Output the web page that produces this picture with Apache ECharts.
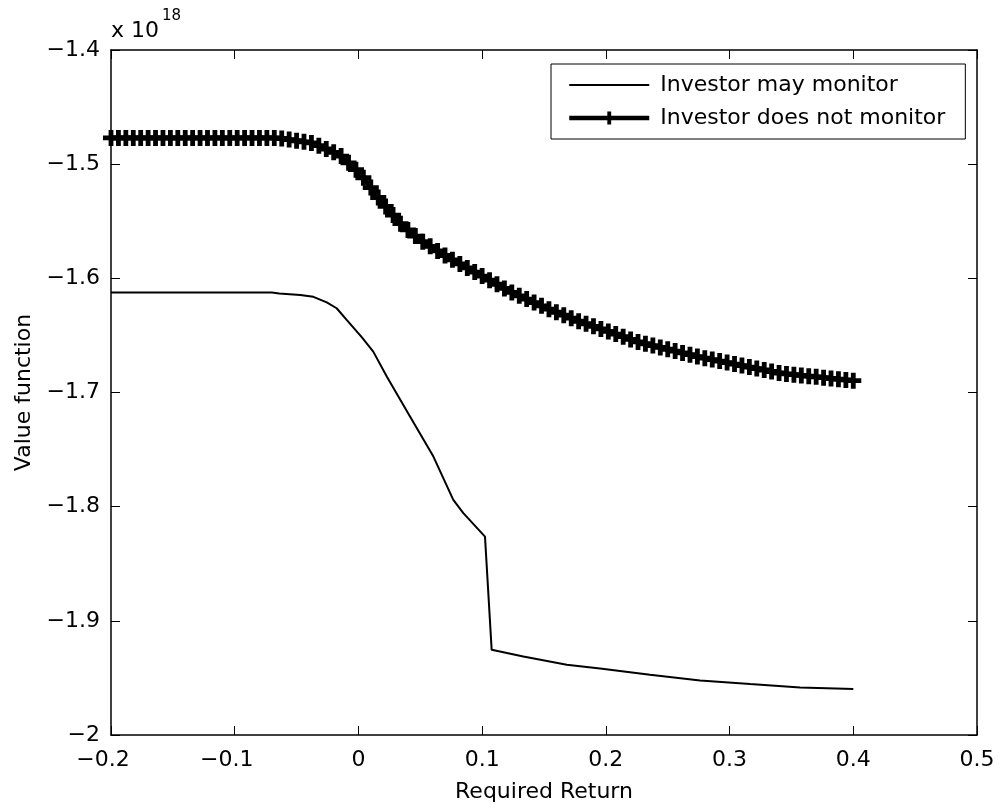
<!DOCTYPE html>
<html>
<head>
<meta charset="utf-8">
<script src="https://cdn.jsdelivr.net/npm/echarts@6/dist/echarts.min.js"></script>
<style>
html,body{margin:0;padding:0;background:#fff;}
#chart{width:1001px;height:808px;}
</style>
</head>
<body>
<div id="chart"></div>
<script>
// ---- data ----
var seriesNames = ['Investor may monitor', 'Investor does not monitor'];

// Investor may monitor
var monitorX = [-0.2, -0.07, -0.064, -0.047, -0.0364, -0.0256, -0.0176, -0.0095, 0.003, 0.012, 0.0229, 0.0417, 0.0606, 0.0767, 0.0848, 0.1023, 0.1077, 0.1333, 0.1684, 0.1953, 0.2357, 0.2762, 0.3166, 0.357, 0.4];
var monitorY = [-1.6125, -1.6125, -1.6132, -1.6145, -1.6162, -1.621, -1.6262, -1.6364, -1.652, -1.6642, -1.686, -1.7211, -1.7561, -1.794, -1.8057, -1.8262, -1.9254, -1.9313, -1.9385, -1.9417, -1.9473, -1.9522, -1.9554, -1.9584, -1.9598];

// Investor does not monitor (one value per marker)
var noMonitorX = [-0.200,-0.194,-0.188,-0.182,-0.176,-0.170,-0.164,-0.158,-0.152,-0.146,-0.140,-0.134,-0.128,-0.122,-0.116,-0.110,-0.104,-0.098,-0.092,-0.086,-0.080,-0.074,-0.068,-0.062,-0.056,-0.050,-0.044,-0.038,-0.032,-0.026,-0.020,-0.014,-0.008,-0.002,
0.004,0.010,0.016,0.022,0.028,0.034,0.040,0.046,0.052,0.058,0.064,0.070,0.076,0.082,0.088,0.094,0.100,0.106,0.112,0.118,0.124,0.130,0.136,0.142,0.148,0.154,0.160,0.166,0.172,0.178,0.184,0.190,0.196,0.202,0.208,0.214,0.220,0.226,0.232,0.238,0.244,0.250,0.256,0.262,0.268,0.274,0.280,0.286,0.292,0.298,0.304,0.310,0.316,0.322,0.328,0.334,0.340,0.346,0.352,0.358,0.364,0.370,0.376,0.382,0.388,0.394,0.400];
var noMonitorY = [-1.477,-1.477,-1.477,-1.477,-1.477,-1.477,-1.477,-1.477,-1.477,-1.477,-1.477,-1.477,-1.477,-1.477,-1.477,-1.477,-1.477,-1.477,-1.477,-1.477,-1.477,-1.477,-1.477,
-1.4775,-1.4785,-1.4795,-1.4804,-1.4814,-1.4838,-1.4867,-1.4896,-1.4929,-1.4988,-1.5048,-1.5119,-1.5205,-1.5292,-1.537,-1.5446,-1.5521,-1.5576,-1.563,-1.5679,-1.572,-1.576,-1.580,-1.5838,-1.5874,-1.5909,-1.5945,-1.598,-1.6016,-1.6052,-1.6088,-1.6123,-1.6153,-1.6182,-1.6212,-1.6241,-1.627,-1.6297,-1.6323,-1.6349,-1.6376,-1.6398,-1.642,-1.6443,-1.6465,-1.6488,-1.6511,-1.6535,-1.6557,-1.6573,-1.6589,-1.6605,-1.6621,-1.6637,-1.6653,-1.6669,-1.6685,-1.6699,-1.6712,-1.6725,-1.6738,-1.6751,-1.6764,-1.6777,-1.679,-1.6803,-1.6816,-1.6829,-1.6837,-1.6844,-1.685,-1.6857,-1.6863,-1.687,-1.6877,-1.6883,-1.689,-1.6896];

var xAxisTitle = 'Required Return';
var yAxisTitle = 'Value function';
var exponentBase = 'x 10';
var exponentPower = '18';

// ---- chart ----
var FONT = '"DejaVu Sans", "Liberation Sans", Arial, sans-serif';
var FS = 22;
function fmt(v) {
  var s = String(+(+v).toFixed(2));
  return s.replace('-', '\u2212');
}
var plusPath = 'path://M3.5,0H6.5V3.5H10V6.5H6.5V10H3.5V6.5H0V3.5H3.5Z';

function pair(xs, ys) { return xs.map(function (x, i) { return [x, ys[i]]; }); }

var chart = echarts.init(document.getElementById('chart'), null, {renderer: 'canvas'});
var axisLine = {show: true, onZero: false, lineStyle: {color: '#000', width: 1.5}};
var tick = {show: true, inside: true, length: 9, lineStyle: {color: '#000', width: 1}};
chart.setOption({
  animation: false,
  backgroundColor: '#fff',
  grid: {left: 111, top: 50, right: 24, bottom: 73, containLabel: false},
  textStyle: {fontFamily: FONT},
  xAxis: [{
    type: 'value', min: -0.2, max: 0.5, interval: 0.1, position: 'bottom',
    axisLine: axisLine, axisTick: tick, splitLine: {show: false},
    axisLabel: {color: '#000', fontSize: FS, fontFamily: FONT, margin: 14,
      formatter: function (v) { var s = fmt(v); return v < 0 ? '{n|' + s + '}' : s; },
      rich: {n: {fontSize: FS, fontFamily: FONT, color: '#000', padding: [0, 16, 0, 0]}}},
    name: xAxisTitle, nameLocation: 'middle', nameGap: 46,
    nameTextStyle: {color: '#000', fontSize: FS, fontFamily: FONT}
  }, {
    type: 'value', min: -0.2, max: 0.5, interval: 0.1, position: 'top',
    axisLine: axisLine, axisTick: tick, axisLabel: {show: false}, splitLine: {show: false}
  }],
  yAxis: [{
    type: 'value', min: -2, max: -1.4, interval: 0.1, position: 'left',
    axisLine: axisLine, axisTick: tick, splitLine: {show: false},
    axisLabel: {color: '#000', fontSize: FS, fontFamily: FONT, margin: 11, formatter: fmt},
    name: yAxisTitle, nameLocation: 'middle', nameGap: 76, nameRotate: 90,
    nameTextStyle: {color: '#000', fontSize: FS, fontFamily: FONT}
  }, {
    type: 'value', min: -2, max: -1.4, interval: 0.1, position: 'right',
    axisLine: axisLine, axisTick: tick, axisLabel: {show: false}, splitLine: {show: false}
  }],
  legend: {
    show: true, orient: 'vertical', left: 551, top: 64,
    padding: [10, 20, 10, 16], itemGap: 11, itemWidth: 80, itemHeight: 16,
    borderColor: '#000', borderWidth: 1, backgroundColor: '#fff',
    textStyle: {color: '#000', fontSize: FS, fontFamily: FONT, padding: [0, 0, 0, 6]},
    data: [
      {name: seriesNames[0], itemStyle: {color: 'rgba(0,0,0,0)', borderWidth: 0, opacity: 0}, lineStyle: {width: 2, color: '#000'}},
      {name: seriesNames[1], lineStyle: {width: 4.5, color: '#000'}}
    ]
  },
  graphic: [
    {type: 'text', left: 111, top: 20, style: {text: exponentBase, fontSize: FS, fontFamily: FONT, fill: '#000'}},
    {type: 'text', left: 162, top: 9, style: {text: exponentPower, fontSize: 15, fontFamily: FONT, fill: '#000'}}
  ],
  series: [{
    name: seriesNames[0], type: 'line', data: pair(monitorX, monitorY),
    showSymbol: false, symbol: 'none',
    lineStyle: {color: '#000', width: 2}, itemStyle: {color: '#000'}
  }, {
    name: seriesNames[1], type: 'line', data: pair(noMonitorX, noMonitorY),
    showSymbol: true, showAllSymbol: true, symbol: plusPath, symbolSize: 16,
    lineStyle: {color: '#000', width: 5}, itemStyle: {color: '#000'}
  }]
});
</script>
</body>
</html>
